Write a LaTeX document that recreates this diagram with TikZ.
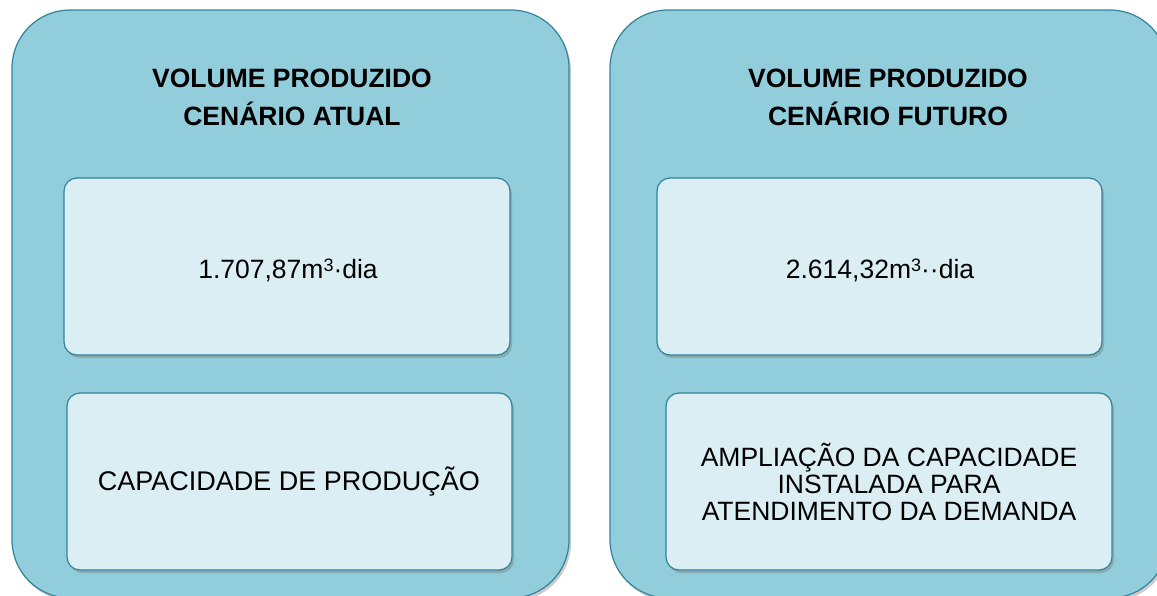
\documentclass[tikz,border=0pt]{standalone}
\usepackage{fontspec}
\setmainfont{Liberation Sans}
\usetikzlibrary{shadows}
\definecolor{outerfill}{HTML}{92CDDC}
\definecolor{outerdraw}{HTML}{31849B}
\definecolor{innerfill}{HTML}{DAEEF3}
\newcommand{\supthree}{\raisebox{7pt}{\fontsize{18}{18}\selectfont 3}}
\tikzset{
  outerbox/.style={draw=outerdraw, fill=outerfill, line width=1.2pt, rounded corners=58pt,
    drop shadow={shadow xshift=2pt, shadow yshift=-3pt, opacity=0.4}},
  innerbox/.style={draw=outerdraw, fill=innerfill, line width=1.2pt, rounded corners=13pt,
    drop shadow={shadow xshift=2pt, shadow yshift=-3pt, opacity=0.45}},
  head/.style={font=\fontsize{26.5}{38}\selectfont\bfseries, align=center},
  body/.style={font=\fontsize{26.5}{27}\selectfont, align=center}
}
\begin{document}
\begin{tikzpicture}[x=1pt,y=-1pt]
\useasboundingbox (0,0) rectangle (1157,595);
\clip (0,0) rectangle (1157,595);
\fill[white] (0,0) rectangle (1157,595);
% outer boxes
\path[outerbox] (12,10) rectangle (569,598);
\path[outerbox] (610,10) rectangle (1168,598);
% inner boxes
\path[innerbox] (64,178) rectangle (510,355);
\path[innerbox] (67,393) rectangle (512,570);
\path[innerbox] (657,178) rectangle (1102,355);
\path[innerbox] (666,393) rectangle (1112,570);
% texts
\node[head] (h1) at (292,97) {VOLUME PRODUZIDO\\CENÁRIO ATUAL};
\node[head] (h2) at (888,97) {VOLUME PRODUZIDO\\CENÁRIO FUTURO};
\node[body] (t1) at (288,270) {1.707,87m\supthree·dia};
\node[body] (t2) at (880,270) {2.614,32m\supthree··dia};
\node[body, font=\fontsize{27}{27}\selectfont] (t3) at (289,482) {CAPACIDADE DE PRODUÇÃO};
\node[body] (t4) at (889,482) {AMPLIAÇÃO DA CAPACIDADE\\INSTALADA PARA\\ATENDIMENTO DA DEMANDA};
\end{tikzpicture}
\end{document}
